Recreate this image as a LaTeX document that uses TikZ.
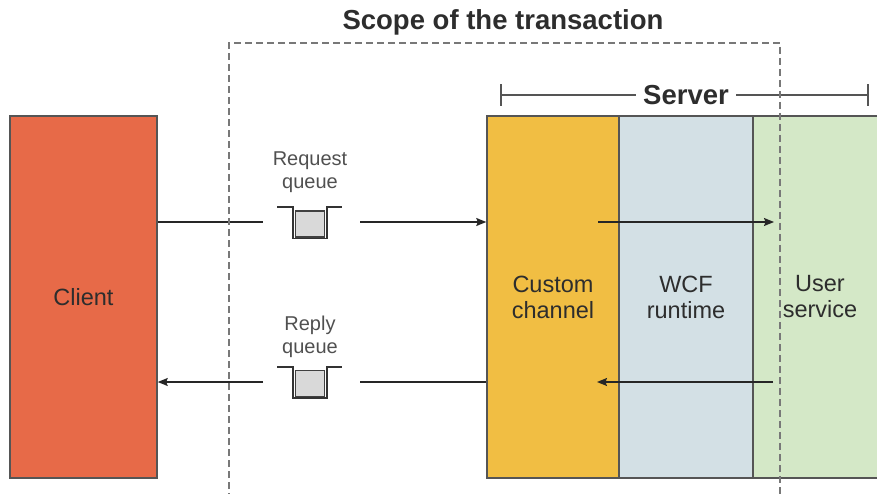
\documentclass[tikz,border=0pt]{standalone}
\usepackage{fontspec}
\setmainfont{Liberation Sans}
\usetikzlibrary{arrows.meta}
\definecolor{clientc}{RGB}{231,106,72}
\definecolor{customc}{RGB}{241,190,67}
\definecolor{wcfc}{RGB}{211,224,229}
\definecolor{userc}{RGB}{212,232,199}
\definecolor{edgec}{RGB}{85,85,85}
\definecolor{textc}{RGB}{45,45,45}
\definecolor{qtextc}{RGB}{80,80,80}
\definecolor{dashc}{RGB}{120,120,120}
\tikzset{
  box/.style={draw=edgec, line width=1.5pt, minimum height=362pt, inner sep=0pt,
    align=center, text=textc, font=\fontsize{23.5}{26}\selectfont},
  qlabel/.style={align=center, text=qtextc, font=\fontsize{20}{23}\selectfont},
  qbox/.style={draw=black!75, line width=1.2pt, fill=black!15, minimum width=29pt, minimum height=26pt, inner sep=0pt},
  qcup/.style={draw=black!80, line width=1.5pt},
  conn/.style={draw=black!85, line width=1.2pt},
  arr/.style={conn, -{Stealth[length=10pt,width=8pt,inset=1.5pt]}},
  scopeline/.style={draw=dashc, line width=1.5pt, dash pattern=on 7pt off 4pt},
  brack/.style={draw=edgec, line width=1.3pt}
}
\begin{document}
\begin{tikzpicture}[x=1pt,y=-1pt]
\useasboundingbox (0,0) rectangle (877,494);
% boxes
\node[box, fill=clientc, minimum width=147pt] (client) at (83.5,297) {Client};
\node[box, fill=customc, minimum width=132pt] (custom) at (553,297) {Custom\\channel};
\node[box, fill=wcfc, minimum width=134pt] (wcf) at (686,297) {WCF\\runtime};
\node[box, fill=userc, minimum width=134pt] (user) at (820,297) {User\\service};
% title
\node[anchor=base, text=textc, font=\bfseries\fontsize{27.5}{30}\selectfont] (title) at (503,30) {Scope of the transaction};
% server bracket
\coordinate (bl) at (501,95);
\coordinate (br) at (868,95);
\node[text=textc, font=\bfseries\fontsize{27.5}{30}\selectfont, inner xsep=7pt, inner ysep=0pt] (server) at (686,95) {Server};
\draw[brack] (bl) -- (server.west);
\draw[brack] (server.east) -- (br);
\draw[brack] ([yshift=-11pt]bl) -- ([yshift=11pt]bl);
\draw[brack] ([yshift=-11pt]br) -- ([yshift=11pt]br);
% request queue
\node[qlabel] (rqlab) at (310,172) {Request\\queue};
\node[qbox] (rq) at (310,224) {};
\draw[qcup] (277,207) -- (293,207) -- (293,238.5) -- (327,238.5) -- (327,207) -- (342,207);
% reply queue
\node[qlabel] (rplab) at (310,337) {Reply\\queue};
\node[qbox] (rp) at (310,383.5) {};
\draw[qcup] (277,367) -- (293,367) -- (293,398) -- (327,398) -- (327,367) -- (342,367);
% connectors
\coordinate (rqin) at (263,222);
\coordinate (rqout) at (360,222);
\coordinate (rpin) at (360,382);
\coordinate (rpout) at (263,382);
\coordinate (s1) at (598,222);
\coordinate (s2) at (774,222);
\coordinate (s3) at (773,382);
\coordinate (s4) at (597,382);
\draw[conn] (client.east |- rqin) -- (rqin);
\draw[arr] (rqout) -- (custom.west |- rqout);
\draw[arr] (s1) -- (s2);
\draw[arr] (s3) -- (s4);
\draw[conn] (custom.west |- rpin) -- (rpin);
\draw[arr] (rpout) -- (client.east |- rpout);
% scope of transaction
\coordinate (d1) at (229,500);
\coordinate (d2) at (229,43);
\coordinate (d3) at (780,43);
\coordinate (d4) at (780,500);
\draw[scopeline] (d1) -- (d2) -- (d3) -- (d4);
\end{tikzpicture}
\end{document}
